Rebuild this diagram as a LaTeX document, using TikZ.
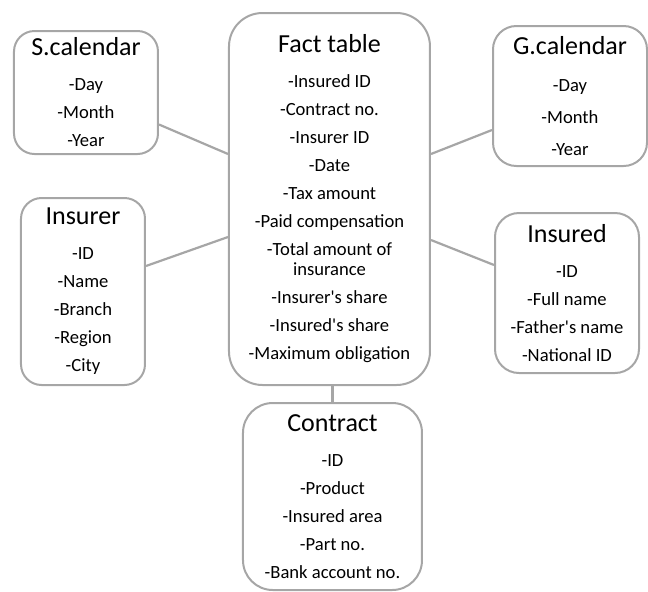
\documentclass[tikz,border=0pt]{standalone}
\usepackage{fontspec}
\setmainfont{Carlito}
\usepackage{tikz}
\usetikzlibrary{positioning}
\definecolor{linegray}{HTML}{A6A6A6}

\begin{document}
\begin{tikzpicture}[every node/.style={align=center, font=\fontsize{9.3}{14}\selectfont},
  table/.style={draw=linegray, line width=1pt, inner sep=0pt}]
\useasboundingbox (-164.75pt,-196pt) rectangle (159.25pt,99.5pt);
\node (fact) [table, rounded corners=16.75pt, minimum width=100.5pt, minimum height=186pt] {{\fontsize{13}{14}\selectfont Fact table}\\[3.5pt]-Insured ID\\-Contract no.\\-Insurer ID\\-Date\\-Tax amount\\-Paid compensation\\-Total amount of\\[-4pt]insurance\\-Insurer\textquotesingle s share\\-Insured\textquotesingle s share\\-Maximum obligation};
\node (scal) [below left=9pt and 34.5pt of fact.north west, table, rounded corners=10.25pt, minimum width=72pt, minimum height=61.5pt] {{\fontsize{13}{14}\selectfont S.calendar}\\[3.5pt]-Day\\-Month\\-Year};
\node (gcal) [below right=6.5pt and 30.5pt of fact.north east, table, rounded corners=11.7pt, minimum width=77pt, minimum height=70pt] {{\fontsize{13}{14}\selectfont G.calendar}\\[4.5pt]-Day\\[2pt]-Month\\[2pt]-Year};
\node (insurer) [below left=92.5pt and 41pt of fact.north west, table, rounded corners=10.3pt, minimum width=62pt, minimum height=93.5pt] {{\fontsize{13}{14}\selectfont Insurer}\\[3.5pt]-ID\\-Name\\-Branch\\-Region\\-City};
\node (insured) [below right=100pt and 31.5pt of fact.north east, table, rounded corners=12pt, minimum width=72pt, minimum height=80pt] {{\fontsize{13}{14}\selectfont Insured}\\[3.5pt]-ID\\-Full name\\-Father\textquotesingle s name\\-National ID};
\node (contract) [below=8pt of fact, xshift=1.5pt, table, rounded corners=14.9pt, minimum width=89.5pt, minimum height=93.5pt] {{\fontsize{13}{14}\selectfont Contract}\\[3.5pt]-ID\\-Product\\-Insured area\\-Part no.\\-Bank account no.};
\draw[linegray, line width=1.1pt] ([yshift=-16pt]scal.east) -- ([yshift=22.5pt]fact.west);
\draw[linegray, line width=1.1pt] ([yshift=-17pt]gcal.west) -- ([yshift=22.5pt]fact.east);
\draw[linegray, line width=1.1pt] ([yshift=12.75pt]insurer.east) -- ([yshift=-19pt]fact.west);
\draw[linegray, line width=1.1pt] ([yshift=14pt]insured.west) -- ([yshift=-20.5pt]fact.east);
\draw[linegray, line width=1.1pt] (contract.north) -- (contract.north |- fact.south);
\end{tikzpicture}
\end{document}
